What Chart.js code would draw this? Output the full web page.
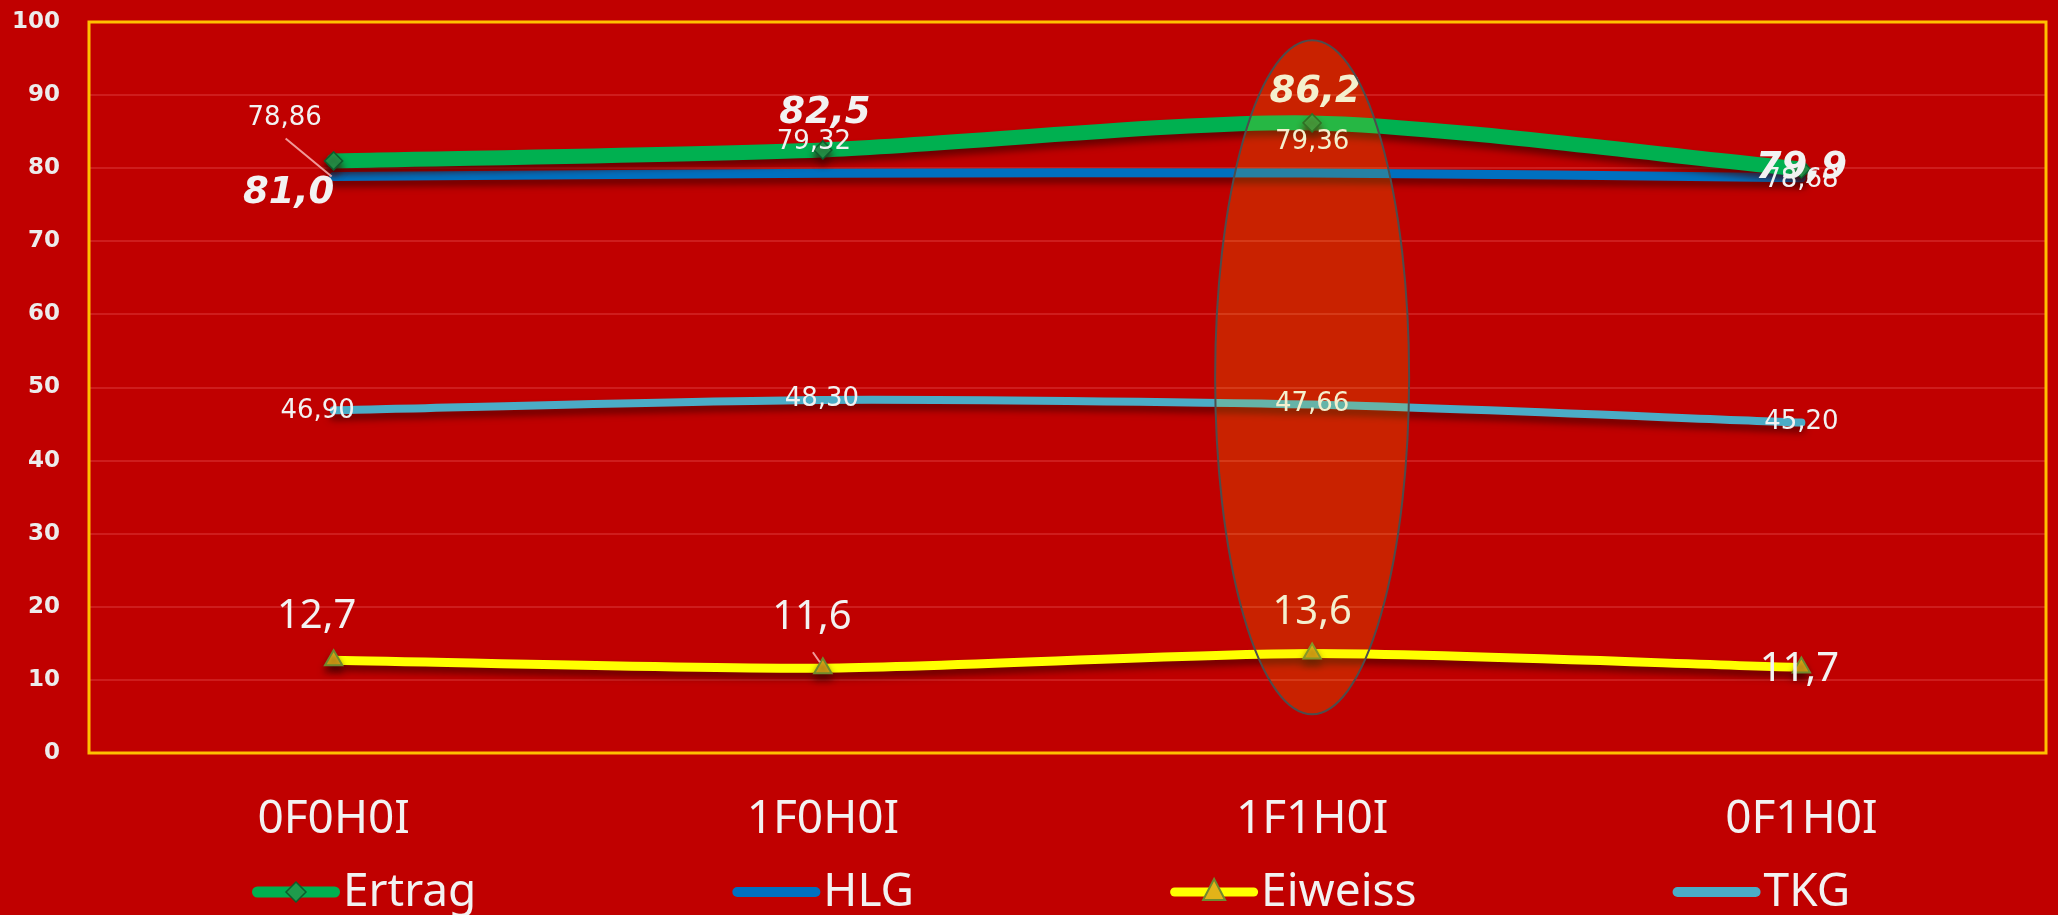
<!DOCTYPE html>
<html>
<head>
<meta charset="utf-8">
<script src="https://cdn.jsdelivr.net/npm/chart.js@4/dist/chart.umd.min.js"></script>
<style>
  html, body { margin: 0; padding: 0; background: #c00000; }
  #wrap { width: 2058px; height: 915px; position: relative; }
</style>
</head>
<body>
<div id="wrap"><canvas id="trialChart"></canvas></div>
<script>
// ── Trial data ────────────────────────────────────────────────────────────
const categories = ['0F0H0I', '1F0H0I', '1F1H0I', '0F1H0I'];
const ertrag  = [81.0, 82.5, 86.2, 79.9];
const hlg     = [78.86, 79.32, 79.36, 78.68];
const eiweiss = [12.7, 11.6, 13.6, 11.7];
const tkg     = [46.90, 48.30, 47.66, 45.20];
const yMin = 0, yMax = 100, yStep = 10;

// highlighted treatment (index into categories) and the value span of the ring
const highlightIndex = 2;
const highlightSpan = [5.3, 97.5];

const TEXT = '#f2f2f2';
const fmt = (v, d) => v.toFixed(d).replace('.', ',');

// Per-series label styling: decimals, font, offset of the text centre from the point
const labelStyle = [
    { dec: 1, font: 'italic bold 37px "DejaVu Sans"', off: [[-45, 33], [2, -37], [3, -30], [0, -1]] },
    { dec: 2, font: '26px "DejaVu Sans"',             off: [[-49, -58], [-9, -31], [0, -31], [0, 2]] },
    { dec: 1, font: '40px "Noto Sans"',               off: [[-17, -44], [-11, -51], [0, -41], [-2, 2]] },
    { dec: 2, font: '26px "DejaVu Sans"',             off: [[-16, 1], [-1, -1], [0, 0], [0, 0]] }
];

// ── Plugins ───────────────────────────────────────────────────────────────
const lineShadow = {
    id: 'lineShadow',
    beforeDatasetDraw(chart) {
        const c = chart.ctx;
        c.save();
        c.shadowColor = 'rgba(70,0,0,0.7)';
        c.shadowBlur = 7;
        c.shadowOffsetY = 6;
    },
    afterDatasetDraw(chart) { chart.ctx.restore(); }
};

const plotFrame = {
    id: 'plotFrame',
    afterDatasetsDraw(chart) {
        const { ctx: c, chartArea: a } = chart;
        c.save();
        c.strokeStyle = '#ffc000';
        c.lineWidth = 3;
        c.strokeRect(a.left, a.top, a.right - a.left, a.bottom - a.top);
        c.restore();
    }
};

const valueLabels = {
    id: 'valueLabels',
    afterDatasetsDraw(chart) {
        const c = chart.ctx;
        c.save();
        c.textAlign = 'center';
        c.textBaseline = 'middle';
        c.fillStyle = TEXT;
        chart.data.datasets.forEach((ds, i) => {
            const st = labelStyle[i];
            c.font = st.font;
            chart.getDatasetMeta(i).data.forEach((pt, j) => {
                const [dx, dy] = st.off[j];
                c.fillText(fmt(ds.data[j], st.dec), pt.x + dx, pt.y + dy);
            });
        });
        // leader lines for the labels pushed away from their points
        c.strokeStyle = 'rgba(245,170,170,0.9)';
        c.lineWidth = 2;
        const h0 = chart.getDatasetMeta(1).data[0];
        c.beginPath();
        c.moveTo(h0.x - 48, h0.y - 38);
        c.lineTo(h0.x - 2, h0.y);
        const e1 = chart.getDatasetMeta(2).data[1];
        c.moveTo(e1.x - 10, e1.y - 16);
        c.lineTo(e1.x - 3, e1.y - 6);
        c.stroke();
        c.restore();
    }
};

const highlightRing = {
    id: 'highlightRing',
    afterDraw(chart) {
        const c = chart.ctx;
        const x = chart.scales.x.getPixelForValue(highlightIndex);
        const yTop = chart.scales.y.getPixelForValue(highlightSpan[1]);
        const yBot = chart.scales.y.getPixelForValue(highlightSpan[0]);
        c.save();
        c.beginPath();
        c.ellipse(x, (yTop + yBot) / 2, 97, (yBot - yTop) / 2, 0, 0, Math.PI * 2);
        c.fillStyle = 'rgba(255,227,0,0.15)';
        c.fill();
        c.strokeStyle = '#4d4d4d';
        c.lineWidth = 2;
        c.stroke();
        c.restore();
    }
};

// Legend drawn by hand: long rounded line swatch with the series marker on it
const swatchLegend = {
    id: 'swatchLegend',
    afterDraw(chart) {
        const c = chart.ctx;
        const y = 892, lineLen = 88, textGap = 3, itemGap = 256;
        let x = 252;
        c.save();
        c.font = '46px "Noto Sans"';
        c.textBaseline = 'middle';
        c.lineCap = 'round';
        chart.data.datasets.forEach(ds => {
            c.strokeStyle = ds.borderColor;
            c.lineWidth = ds.legendWidth;
            c.beginPath();
            c.moveTo(x + ds.legendWidth / 2, y);
            c.lineTo(x + lineLen - ds.legendWidth / 2, y);
            c.stroke();
            const mx = x + lineLen / 2;
            if (ds.pointStyle === 'rectRot') {
                c.beginPath();
                c.moveTo(mx, y - 10); c.lineTo(mx + 10, y); c.lineTo(mx, y + 10); c.lineTo(mx - 10, y);
                c.closePath();
                c.fillStyle = ds.pointBackgroundColor; c.fill();
                c.strokeStyle = ds.pointBorderColor; c.lineWidth = 1.5; c.stroke();
            } else if (ds.pointStyle === 'triangle') {
                c.beginPath();
                c.moveTo(mx, y - 13); c.lineTo(mx + 11, y + 8); c.lineTo(mx - 11, y + 8);
                c.closePath();
                c.fillStyle = ds.pointBackgroundColor; c.fill();
                c.strokeStyle = ds.pointBorderColor; c.lineWidth = 2; c.stroke();
            }
            c.fillStyle = TEXT;
            c.fillText(ds.label, x + lineLen + textGap, y + 1);
            x += lineLen + textGap + c.measureText(ds.label).width + itemGap;
        });
        c.restore();
    }
};

// ── Chart ─────────────────────────────────────────────────────────────────
const ctx = document.getElementById('trialChart').getContext('2d');
new Chart(ctx, {
    type: 'line',
    data: {
        labels: categories,
        datasets: [
            { label: 'Ertrag', data: ertrag, borderColor: '#00b050', borderWidth: 15, legendWidth: 11,
              pointStyle: 'rectRot', pointRadius: 9, pointBackgroundColor: '#1f9b4c', pointBorderColor: '#0d5c2c', pointBorderWidth: 1.5 },
            { label: 'HLG', data: hlg, borderColor: '#0070c0', borderWidth: 9, legendWidth: 10, pointRadius: 0 },
            { label: 'Eiweiss', data: eiweiss, borderColor: '#ffff00', borderWidth: 9, legendWidth: 9,
              pointStyle: 'triangle', pointRadius: 10, pointBackgroundColor: '#e2b318', pointBorderColor: '#6f8a2e', pointBorderWidth: 2 },
            { label: 'TKG', data: tkg, borderColor: '#4bacc6', borderWidth: 8, legendWidth: 10, pointRadius: 0 }
        ]
    },
    options: {
        responsive: true,
        maintainAspectRatio: false,
        animation: false,
        elements: { line: { tension: 0.25, borderCapStyle: 'round', fill: false } },
        layout: { padding: { top: 22, right: 6, left: 0, bottom: 0 } },
        plugins: { legend: { display: false }, tooltip: { enabled: false } },
        scales: {
            x: {
                offset: true,
                grid: { display: false },
                border: { display: false },
                ticks: { color: TEXT, font: { family: 'Noto Sans', size: 46 }, padding: 31, maxRotation: 0 },
                afterFit: s => { s.height = 162; }
            },
            y: {
                min: yMin, max: yMax,
                grid: { color: 'rgba(255,130,130,0.22)', lineWidth: 2, drawTicks: false },
                border: { display: false },
                ticks: { stepSize: yStep, color: '#ececec', padding: 29, font: { family: 'DejaVu Sans', size: 23, weight: 'bold' } },
                // the tick padding is horizontal here; don't let it push the plot top down
                afterFit: s => { s.width = 89; s.paddingTop = 0; s.paddingBottom = 0; }
            }
        }
    },
    plugins: [lineShadow, plotFrame, valueLabels, highlightRing, swatchLegend]
});
</script>
</body>
</html>
